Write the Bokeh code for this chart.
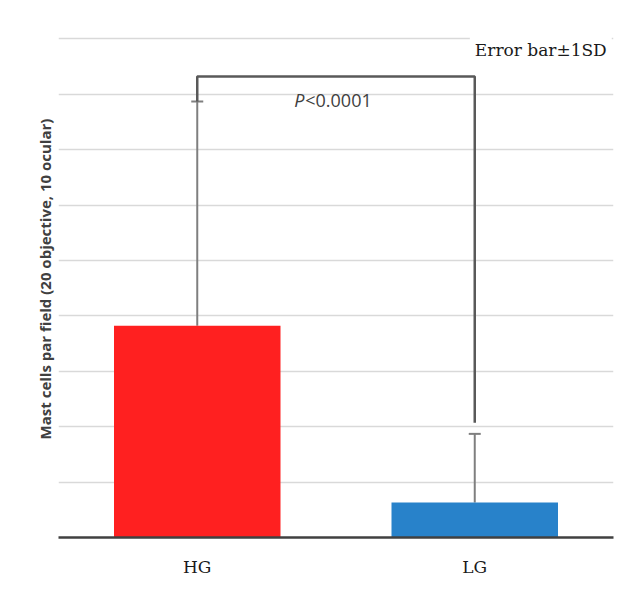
from bokeh.plotting import figure
from bokeh.models import ColumnDataSource, Whisker, TeeHead, FixedTicker, Title
from bokeh.core.properties import value
from bokeh.embed import file_html
from bokeh.resources import INLINE

categories = ["HG", "LG"]
mean_cells = [3.82, 0.63]
sd_cells = [4.05, 1.24]
bar_colors = ["#FF2020", "#2882CA"]
bracket_top = 8.32
lg_leg_bottom = 2.07
grid_ticks = [0, 1, 2, 3, 4, 5, 6, 7, 8, 9]
y_title = "Mast cells par field (20 objective, 10 ocular)"

upper = [m + s for m, s in zip(mean_cells, sd_cells)]
src = ColumnDataSource(dict(cat=categories, mean=mean_cells, upper=upper, color=bar_colors))

p = figure(x_range=categories, y_range=(0, 9.33), width=624, height=582,
           output_backend="svg", toolbar_location=None,
           min_border_left=58, min_border_right=11, min_border_top=20, min_border_bottom=45)
p.outline_line_color = None
p.background_fill_color = "white"
p.border_fill_color = "white"

p.vbar(x="cat", top="mean", bottom=0, width=0.6, color="color", source=src, line_color=None)

w = Whisker(base="cat", upper="upper", lower="mean", source=src,
            upper_head=TeeHead(size=12, line_color="#7f7f7f", line_width=2),
            lower_head=None, line_color="#7f7f7f", line_width=2)
p.add_layout(w)

p.line(x=[categories[0], categories[0], categories[1], categories[1]],
       y=[upper[0], bracket_top, bracket_top, lg_leg_bottom],
       line_color="#595959", line_width=2.5)

p.text(x=[categories[0]], y=[7.9], text=["P"], x_offset=97,
       text_font=value("Open Sans"), text_font_style="italic", text_font_size="18px",
       text_color="#404040", text_align="left", text_baseline="middle")
p.text(x=[categories[0]], y=[7.9], text=["<0.0001"], x_offset=108,
       text_font=value("Open Sans"), text_font_size="18px",
       text_color="#404040", text_align="left", text_baseline="middle")

p.text(x=[categories[1]], y=[8.8], text=["Error bar\u00b11SD"], x_offset=137,
       text_font=value("DejaVu Serif"), text_font_size="17px",
       text_color="#1a1a1a", text_align="right", text_baseline="middle",
       background_fill_color="white", padding=5)

p.yaxis.visible = False
p.ygrid.ticker = FixedTicker(ticks=grid_ticks)
p.ygrid.grid_line_color = "#d9d9d9"
p.ygrid.grid_line_width = 1.5
p.xgrid.grid_line_color = None

p.add_layout(Title(text=y_title, align="center", text_font="Open Sans",
                   text_font_style="bold", text_font_size="15px",
                   text_color="#404040", standoff=7), "left")

p.xaxis.axis_line_color = "#404040"
p.xaxis.axis_line_width = 2.5
p.xaxis.major_tick_line_color = None
p.xaxis.minor_tick_line_color = None
p.xaxis.major_label_text_font = "DejaVu Serif"
p.xaxis.major_label_text_font_size = "17px"
p.xaxis.major_label_text_color = "#1a1a1a"
p.xaxis.major_label_standoff = 13

open("out.html", "w").write(file_html(p, INLINE))
